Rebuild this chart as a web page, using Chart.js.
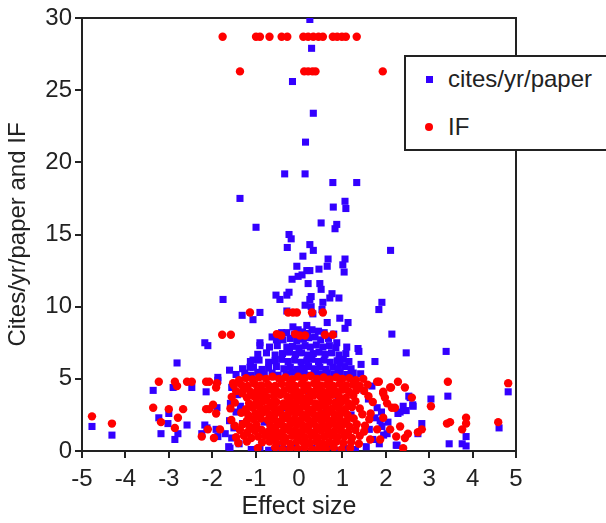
<!DOCTYPE html>
<html>
<head>
<meta charset="utf-8">
<script src="https://cdn.jsdelivr.net/npm/chart.js@4"></script>
<style>
  html, body { margin: 0; padding: 0; background: #fff; overflow: hidden; }
  #wrap { position: relative; width: 606px; height: 523px; }
  #legend {
    position: absolute; left: 404px; top: 55px; width: 220px; height: 92px;
    border: 2px solid #222; background: #fff;
    font-family: "Liberation Sans", Arial, sans-serif; font-size: 24px; color: #222;
  }
  .item { position: absolute; left: 0; height: 30px; line-height: 30px; }
  .item span { position: absolute; left: 42px; white-space: nowrap; }
  .sq { position: absolute; left: 20px; top: 12px; width: 7px; height: 7px; background: #3300ff; }
  .dot { position: absolute; left: 19px; top: 11px; width: 8px; height: 8px; border-radius: 50%; background: #ff0000; }
</style>
</head>
<body>
<div id="wrap">
  <canvas id="chart" width="606" height="523"></canvas>
  <div id="legend">
    <div class="item" style="top:7px"><div class="sq"></div><span>cites/yr/paper</span></div>
    <div class="item" style="top:55px"><div class="dot"></div><span>IF</span></div>
  </div>
</div>
<script>
// axis ticks
const xTicks = [-5, -4, -3, -2, -1, 0, 1, 2, 3, 4, 5]
const yTicks = [0, 5, 10, 15, 20, 25, 30]

// cites/yr/paper vs effect size as [x, y]
const citesOuter = [
  [0.25,29.9],[0.29,27.9],[-0.15,25.6],[0.33,23.4],[0.15,21.4],
  [-1.36,17.5],[-0.99,15.5],[-0.33,19.2],[0.14,19.2],[-0.23,15.0],[-0.18,14.7],[-0.27,14.1],
  [0.78,18.6],[1.33,18.6],[0.79,16.9],[1.06,17.3],[1.08,16.8],[0.51,15.8],[0.87,15.7],[0.83,15.4],
  [0.25,14.3],[0.33,13.9],[2.11,13.9],[0.09,13.5],[0.67,13.3],[0.65,12.8],[1.06,13.3],[1.01,12.9],
  [1.04,12.4],[-0.05,12.8],[0.18,12.5],[0.25,12.5],[0.07,12.2],[-0.02,12.1],[-0.16,11.9],[0.46,12.6],
  [0.21,11.6],[0.48,11.6],[0.51,11.2],[-0.23,11.0],[-0.28,10.8],[-0.53,10.8],[-0.44,10.5],[0.28,10.7],
  [0.76,10.9],[0.92,10.6],[-1.75,10.5],[1.91,10.3],[1.84,9.8],
  [0.25,10.5],[0.14,10.1],[0.28,10.0],[0.55,10.3],[0.71,10.6],
  [-1.31,9.4],[-0.9,9.6],[-1.06,9.1],[-0.28,9.7],[0.53,9.8],[0.32,9.5],[0.94,9.2],[1.13,8.9],
  [1.06,8.5],[0.65,8.9],[0.18,8.7],[0.3,8.4],[0.37,7.9],[-0.14,8.6],[-0.02,8.4],[-0.28,8.2],
  [-0.62,7.9],[-0.37,7.7],[-0.28,7.2],[-0.9,7.5],[-0.9,7.3],[0.87,7.5],[1.1,7.2],[1.36,7.1],[1.38,6.9],
  [2.14,8.1],[2.47,6.8],[3.39,6.9],[1.75,6.2],[1.43,6.0],[1.22,5.3],[0.94,6.1],
  [3.43,3.8],[4.82,4.1],[3.04,3.6],[2.53,3.8],[2.62,3.2],[2.4,3.1],[2.47,2.8],[2.28,2.6],
  [2.56,3.7],[2.63,3.1],[2.33,2.7],[2.83,1.9],[2.74,1.2],[3.46,0.5],[3.85,1.0],[3.85,0.35],
  [3.76,0.5],[4.61,1.6],[2.24,0.4],[2.26,0.4],[2.03,1.2],[1.87,2.1],[1.91,1.7],
  [-2.17,7.5],[-2.1,7.3],[-2.81,6.1],[-3.36,4.2],[-2.9,4.4],[-2.47,4.4],[-2.14,4.1],[-1.87,4.9],
  [-4.77,1.7],[-4.31,1.1],[-3.23,2.3],[-3.0,2.6],[-3.02,1.9],[-3.18,1.2],[-2.79,1.2],[-2.86,0.8],
  [-2.58,1.8],[-2.17,1.8],[-2.24,1.2],[-2.12,1.6],[-1.89,3.0],[-1.91,1.5],[-1.87,1.0],
  [-1.59,0.2],[-1.87,5.1],[-1.6,5.6],[-1.06,6.3],[-1.13,5.8]
]
const citesCore = [
  [-1.45,5.3],[-1.25,5.4],[-1.1,5.25],[-0.95,5.45],[-0.8,5.3],[-0.62,5.4],[-0.48,5.25],[-0.3,5.35],
  [-0.15,5.45],[0.0,5.3],[0.12,5.4],[0.25,5.25],[0.38,5.45],[0.5,5.3],[0.65,5.4],[0.8,5.3],
  [0.95,5.45],[1.1,5.3],[1.25,5.4],[1.42,5.35],
  [-1.3,5.7],[-1.05,5.8],[-0.85,5.65],[-0.7,5.75],[-0.52,5.85],[-0.35,5.7],[-0.2,5.8],[-0.05,5.65],
  [0.08,5.75],[0.22,5.85],[0.35,5.7],[0.48,5.8],[0.62,5.65],[0.78,5.8],[0.9,5.7],[1.05,5.85],[1.2,5.7],
  [-1.12,6.2],[-0.92,6.3],[-0.7,6.15],[-0.55,6.25],[-0.4,6.35],[-0.25,6.2],[-0.1,6.3],[0.05,6.15],
  [0.18,6.25],[0.3,6.35],[0.45,6.2],[0.58,6.3],[0.72,6.15],[0.88,6.25],[1.02,6.35],[1.15,6.2],
  [-0.95,6.7],[-0.75,6.8],[-0.55,6.65],[-0.38,6.75],[-0.22,6.85],[-0.08,6.7],[0.06,6.8],[0.2,6.65],
  [0.33,6.75],[0.46,6.85],[0.6,6.7],[0.75,6.8],[0.92,6.65],[1.08,6.75],
  [-0.68,7.2],[-0.5,7.3],[-0.15,7.25],[0.0,7.15],[0.14,7.3],[0.26,7.2],[0.4,7.35],[0.55,7.2],
  [0.7,7.3],[0.85,7.15],
  [-0.52,7.7],[-0.2,7.8],[-0.05,7.65],[0.1,7.75],[0.22,7.85],[0.5,7.7],[0.68,7.8],
  [-0.4,8.2],[-0.1,8.1],[0.08,8.25],[0.2,8.15],[0.45,8.3],[0.58,8.2],[0.8,8.1],
  [-1.62,0.3],[-1.55,0.9],[-1.5,1.6],[-1.6,2.1],[-1.45,2.7],[-1.58,3.3],[-1.42,3.9],[-1.55,4.4],
  [-1.7,1.2],[-1.38,0.5],[-1.3,1.9],[-1.35,3.1],
  [1.55,0.3],[1.7,0.8],[1.62,1.5],[1.75,2.3],[1.8,3.0],[1.6,3.6],[1.85,0.5],[1.95,1.1],
  [2.05,2.0],[1.9,2.7],[1.5,4.2],[1.68,4.5],
  [-1.1,0.1],[-0.9,0.25],[-0.7,0.05],[-0.5,0.2],[-0.3,0.1],[-0.1,0.3],[0.1,0.05],[0.3,0.2],
  [0.5,0.1],[0.7,0.3],[0.9,0.05],[1.1,0.2],[1.3,0.1],
  [-0.8,2.0],[-0.3,3.0],[0.4,1.5],[0.9,3.5],[0.2,4.2],[-1.0,4.0],[1.2,2.5],[-0.6,1.0],[0.6,2.6]
]

// journal impact factor vs effect size as [x, y]
const ifOuter = [
  [-1.76,28.7],[-0.99,28.7],[-0.9,28.7],[-0.68,28.7],[-0.4,28.7],[-0.27,28.7],
  [0.1,28.7],[0.21,28.7],[0.33,28.7],[0.45,28.7],[0.55,28.7],
  [0.78,28.7],[0.88,28.7],[0.99,28.7],[1.08,28.7],[1.33,28.7],
  [-1.36,26.3],[0.12,26.3],[0.21,26.3],[0.31,26.3],[0.38,26.3],[1.93,26.3],
  [-1.13,9.6],[-0.25,9.6],[-0.14,9.6],[-0.05,9.6],[0.3,9.6],[0.55,9.6],
  [-1.77,8.05],[-1.57,8.05],[-0.51,8.1],[-0.41,8.0],[-0.09,8.1],[0.02,8.0],[0.14,8.0],[0.6,8.05],[0.78,8.05],
  [-4.77,2.4],[-4.31,1.9],[-3.23,4.8],[-2.86,4.8],[-2.81,4.5],[-2.58,4.8],[-2.47,4.8],[-2.14,4.8],
  [-2.07,4.8],[-1.91,4.4],[-3.36,3.0],[-3.0,2.9],[-2.67,2.9],[-3.18,2.0],[-2.79,2.3],[-2.86,1.6],
  [-2.14,2.9],[-2.07,2.9],[-2.24,1.0],[-2.1,1.5],[-1.96,0.9],[-1.91,2.6],[-1.89,4.7],[-1.98,3.2],
  [-1.82,1.5],[-1.52,4.7],[-1.31,4.0],
  [4.82,4.7],[3.43,4.8],[3.04,3.1],[3.41,1.9],[3.48,2.0],[3.85,2.3],[3.85,1.9],[3.76,1.5],
  [4.59,2.0],[2.28,4.8],[2.44,4.4],[2.12,4.4],[1.84,4.8],[2.6,3.7],[2.14,3.0],[2.83,1.5],
  [2.74,1.3],[2.51,1.2],[2.44,0.9],[2.33,1.7],[2.4,0.2],[2.24,1.0],[1.94,4.1],[1.98,3.7],
  [1.8,4.8],[2.1,4.4],[1.94,4.0],[2.03,3.3],[2.21,3.0],[1.94,2.3],[1.8,1.5],[2.1,1.5],
  [1.64,0.8],[1.87,0.8]
]
const ifCore = [
  [-1.38,4.9],[-1.22,5.05],[-1.07,4.95],[-0.92,5.1],[-0.76,5.0],[-0.61,5.15],[-0.46,5.0],[-0.31,5.1],
  [-0.16,4.95],[-0.02,5.15],[0.13,5.05],[0.27,5.2],[0.42,5.0],[0.57,5.1],[0.71,4.95],[0.86,5.1],
  [1.0,5.0],[1.16,5.05],[1.31,4.9],[1.48,5.0],
  [-1.5,4.55],[-1.33,4.6],[-1.18,4.5],[-1.02,4.65],[-0.87,4.55],[-0.71,4.6],[-0.55,4.5],[-0.4,4.65],
  [-0.24,4.6],[-0.09,4.5],[0.06,4.65],[0.2,4.55],[0.35,4.7],[0.5,4.55],[0.64,4.6],[0.79,4.5],
  [0.94,4.65],[1.09,4.55],[1.24,4.6],[1.4,4.5],[1.58,4.6],
  [-1.45,4.15],[-1.28,4.25],[-1.12,4.1],[-0.96,4.2],[-0.8,4.15],[-0.65,4.25],[-0.5,4.1],[-0.34,4.2],
  [-0.19,4.25],[-0.04,4.1],[0.11,4.2],[0.25,4.15],[0.4,4.25],[0.55,4.1],[0.7,4.2],[0.85,4.15],
  [1.0,4.25],[1.15,4.1],[1.32,4.2],[1.5,4.15],
  [-1.55,3.75],[-1.2,3.7],[-1.05,3.8],[-0.9,3.85],[-0.74,3.75],[-0.58,3.8],[-0.43,3.9],
  [-0.27,3.75],[-0.12,3.85],[0.03,3.8],[0.18,3.7],[0.33,3.85],[0.48,3.8],[0.62,3.75],[0.77,3.9],
  [0.92,3.8],[1.08,3.7],[1.25,3.85],[1.6,3.8],
  [-1.48,3.35],[-1.15,3.3],[-0.98,3.4],[-0.83,3.45],[-0.67,3.35],[-0.52,3.4],[-0.36,3.3],
  [-0.21,3.45],[-0.06,3.4],[0.09,3.35],[0.24,3.45],[0.38,3.3],[0.53,3.4],[0.68,3.45],[0.83,3.35],
  [0.98,3.4],[1.14,3.3],[1.3,3.45],[1.7,3.4],
  [-1.58,2.95],[-1.22,2.9],[-1.06,3.0],[-0.9,3.05],[-0.75,2.95],[-0.59,3.0],[-0.44,2.9],
  [-0.28,3.05],[-0.13,3.0],[0.02,2.95],[0.17,3.05],[0.31,2.9],[0.46,3.0],[0.61,3.05],[0.76,2.95],
  [0.91,3.0],[1.06,2.9],[1.22,3.05],[1.4,2.95],
  [-1.33,2.65],[-1.17,2.5],[-1.0,2.6],[-0.85,2.65],[-0.69,2.55],[-0.54,2.6],[-0.38,2.5],
  [-0.23,2.65],[-0.08,2.6],[0.07,2.55],[0.22,2.65],[0.36,2.5],[0.51,2.6],[0.66,2.65],[0.81,2.55],
  [0.96,2.6],[1.12,2.5],[1.46,2.55],[1.65,2.6],
  [-1.56,2.15],[-1.2,2.1],[-1.04,2.2],[-0.88,2.25],[-0.72,2.15],[-0.57,2.2],[-0.41,2.1],
  [-0.26,2.25],[-0.11,2.2],[0.04,2.15],[0.19,2.25],[0.34,2.1],[0.49,2.2],[0.64,2.25],[0.79,2.15],
  [0.94,2.2],[1.1,2.1],[1.26,2.25],[1.62,2.2],
  [-1.48,1.75],[-1.3,1.85],[-1.14,1.7],[-0.98,1.8],[-0.66,1.75],[-0.5,1.8],[-0.35,1.7],
  [-0.2,1.85],[-0.05,1.8],[0.1,1.75],[0.25,1.85],[0.4,1.7],[0.55,1.8],[0.7,1.85],[0.85,1.75],
  [1.0,1.8],[1.16,1.7],[1.33,1.85],[1.52,1.75],
  [-1.36,1.45],[-1.19,1.3],[-1.02,1.4],[-0.86,1.45],[-0.7,1.35],[-0.55,1.4],[-0.39,1.3],
  [-0.24,1.45],[-0.09,1.4],[0.06,1.35],[0.21,1.45],[0.36,1.3],[0.51,1.4],[0.66,1.45],[0.81,1.35],
  [0.97,1.4],[1.13,1.3],[1.3,1.45],[1.5,1.35],
  [-1.45,0.95],[-1.27,1.05],[-1.1,0.9],[-0.94,1.0],[-0.78,1.05],[-0.62,0.95],[-0.47,1.0],[-0.31,0.9],
  [-0.16,1.05],[-0.01,1.0],[0.14,0.95],[0.29,1.05],[0.44,0.9],[0.59,1.0],[0.74,1.05],[0.89,0.95],
  [1.05,1.0],[1.22,0.9],[1.4,1.05],
  [-1.4,0.55],[-1.2,0.65],[-0.85,0.6],[-0.68,0.65],[-0.52,0.55],[-0.36,0.6],[-0.2,0.5],
  [-0.05,0.65],[0.1,0.6],[0.25,0.55],[0.4,0.65],[0.55,0.5],[0.7,0.6],[0.86,0.65],[1.02,0.55],
  [1.2,0.6],[1.38,0.5],
  [-0.95,0.2],[-0.55,0.25],[-0.38,0.1],[-0.2,0.2],[-0.03,0.15],[0.13,0.25],[0.3,0.1],
  [0.46,0.2],[0.62,0.15],[0.8,0.25],[0.98,0.1],[1.18,0.2]
]

const toXY = p => ({ x: p[0], y: p[1] })
const FONT = "'Liberation Sans', Arial, sans-serif"
const INK = '#222'

// top and right frame lines of the plot box
const frame = {
  id: 'frame',
  beforeDatasetsDraw(chart) {
    const { ctx, chartArea: a } = chart
    ctx.save()
    ctx.strokeStyle = INK
    ctx.lineWidth = 2
    ctx.beginPath()
    ctx.moveTo(a.left, a.top)
    ctx.lineTo(a.right, a.top)
    ctx.lineTo(a.right, a.bottom)
    ctx.stroke()
    ctx.restore()
  }
}

new Chart(document.getElementById('chart'), {
  type: 'scatter',
  data: {
    datasets: [
      {
        label: 'IF',
        data: ifOuter.concat(ifCore).map(toXY),
        pointStyle: 'circle',
        pointRadius: 4.2,
        pointHoverRadius: 4.2,
        backgroundColor: '#ff0000',
        borderWidth: 0
      },
      {
        label: 'cites/yr/paper',
        data: citesOuter.concat(citesCore).map(toXY),
        pointStyle: 'rect',
        pointRadius: 5,
        pointHoverRadius: 5,
        backgroundColor: '#3300ff',
        borderWidth: 0
      }
    ]
  },
  options: {
    responsive: false,
    animation: false,
    events: [],
    layout: { padding: { top: 18, right: 90, bottom: 0, left: 0 } },
    plugins: { legend: { display: false }, tooltip: { enabled: false } },
    scales: {
      x: {
        type: 'linear',
        min: -5, max: 5,
        afterFit: s => { s.height = 72 },
        afterBuildTicks: s => { s.ticks = xTicks.map(v => ({ value: v })) },
        border: { display: true, color: INK, width: 2 },
        grid: { display: true, drawOnChartArea: false, drawTicks: true, tickLength: 7, color: INK, lineWidth: 2 },
        ticks: { color: INK, padding: 7, maxRotation: 0, font: { family: FONT, size: 24 } },
        title: { display: true, text: 'Effect size', color: INK, padding: { top: 0, bottom: 1 }, font: { family: FONT, size: 25 } }
      },
      y: {
        type: 'linear',
        min: 0, max: 30,
        afterFit: s => { s.width = 82 },
        afterBuildTicks: s => { s.ticks = yTicks.map(v => ({ value: v })) },
        border: { display: true, color: INK, width: 2 },
        grid: { display: true, drawOnChartArea: false, drawTicks: true, tickLength: 7, color: INK, lineWidth: 2 },
        ticks: { color: INK, padding: 3, font: { family: FONT, size: 24 } },
        title: { display: true, text: 'Cites/yr/paper and IF', color: INK, padding: { top: 4, bottom: 0 }, font: { family: FONT, size: 24 } }
      }
    }
  },
  plugins: [frame]
})
</script>
</body>
</html>
